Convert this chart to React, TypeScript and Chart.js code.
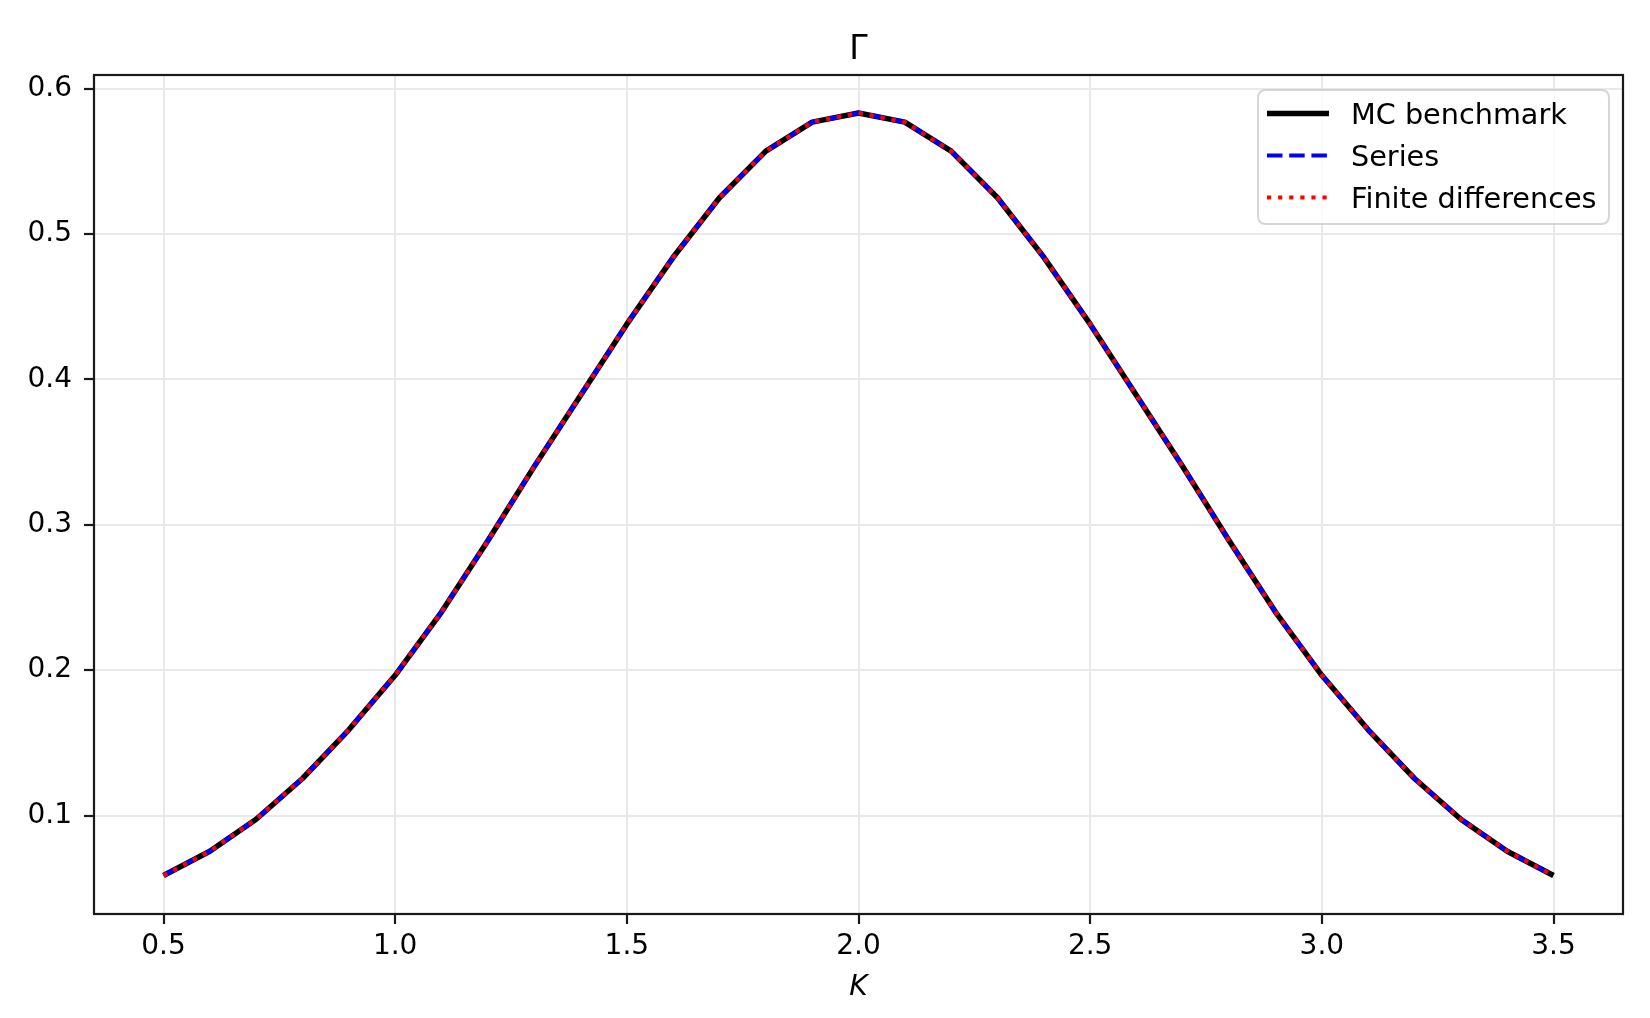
import React, { useEffect, useRef } from "react";
import { Chart, registerables } from "chart.js";

Chart.register(...registerables);

// ---- data ----
const kValues = [
  0.5, 0.6, 0.7, 0.8, 0.9, 1.0, 1.1, 1.2, 1.3, 1.4, 1.5, 1.6, 1.7, 1.8, 1.9, 2.0,
  2.1, 2.2, 2.3, 2.4, 2.5, 2.6, 2.7, 2.8, 2.9, 3.0, 3.1, 3.2, 3.3, 3.4, 3.5,
];
const mcBenchmark = [
  0.0588, 0.0755, 0.0975, 0.1255, 0.159, 0.1965, 0.24, 0.289, 0.34, 0.389, 0.438,
  0.484, 0.525, 0.557, 0.577, 0.5833, 0.577, 0.557, 0.525, 0.484, 0.438, 0.389,
  0.34, 0.289, 0.24, 0.1965, 0.159, 0.1255, 0.0975, 0.0755, 0.0588,
];
const seriesValues = [
  0.0588, 0.0755, 0.0975, 0.1255, 0.159, 0.1965, 0.24, 0.289, 0.34, 0.389, 0.438,
  0.484, 0.525, 0.557, 0.577, 0.5833, 0.577, 0.557, 0.525, 0.484, 0.438, 0.389,
  0.34, 0.289, 0.24, 0.1965, 0.159, 0.1255, 0.0975, 0.0755, 0.0588,
];
const finiteDiffValues = [
  0.0588, 0.0755, 0.0975, 0.1255, 0.159, 0.1965, 0.24, 0.289, 0.34, 0.389, 0.438,
  0.484, 0.525, 0.557, 0.577, 0.5833, 0.577, 0.557, 0.525, 0.484, 0.438, 0.389,
  0.34, 0.289, 0.24, 0.1965, 0.159, 0.1255, 0.0975, 0.0755, 0.0588,
];
const seriesLabels = ["MC benchmark", "Series", "Finite differences"];
const chartTitle = "Γ";
const xAxisLabel = "K";

const W = 1650;
const H = 1018;
const FONT = "'DejaVu Sans', 'Liberation Sans', sans-serif";

const legendStyles = [
  { color: "#000000", width: 5.5, dash: [] as number[], cap: "butt" as CanvasLineCap },
  { color: "#0000ff", width: 4.2, dash: [15.5, 6.7], cap: "butt" as CanvasLineCap },
  { color: "#ff0000", width: 4.2, dash: [4.2, 6.9], cap: "butt" as CanvasLineCap },
];

function roundRect(ctx: CanvasRenderingContext2D, x: number, y: number, w: number, h: number, r: number) {
  ctx.beginPath();
  ctx.moveTo(x + r, y);
  ctx.lineTo(x + w - r, y);
  ctx.quadraticCurveTo(x + w, y, x + w, y + r);
  ctx.lineTo(x + w, y + h - r);
  ctx.quadraticCurveTo(x + w, y + h, x + w - r, y + h);
  ctx.lineTo(x + r, y + h);
  ctx.quadraticCurveTo(x, y + h, x, y + h - r);
  ctx.lineTo(x, y + r);
  ctx.quadraticCurveTo(x, y, x + r, y);
  ctx.closePath();
}

const decorPlugin = {
  id: "decor",
  afterDatasetsDraw(chart: any) {
    const { ctx, chartArea } = chart;
    const { left, right, top, bottom } = chartArea;
    ctx.save();
    // spines
    ctx.strokeStyle = "#1a1a1a";
    ctx.lineWidth = 2.2;
    ctx.setLineDash([]);
    ctx.strokeRect(left, top, right - left, bottom - top);

    // title
    const cx = (left + right) / 2;
    ctx.fillStyle = "#000";
    ctx.textAlign = "center";
    ctx.textBaseline = "alphabetic";
    ctx.font = `33px ${FONT}`;
    ctx.fillText(chartTitle, cx, 58.5);

    // x label
    ctx.font = `italic 28px ${FONT}`;
    ctx.fillText(xAxisLabel, cx, 995);

    // legend
    const bx = 1258, by = 90, bw = 351, bh = 134;
    roundRect(ctx, bx, by, bw, bh, 8);
    ctx.fillStyle = "rgba(255,255,255,0.8)";
    ctx.fill();
    ctx.strokeStyle = "rgba(204,204,204,0.8)";
    ctx.lineWidth = 2;
    ctx.stroke();

    const baselines = [123.5, 165.5, 207.5];
    seriesLabels.forEach((lab, i) => {
      const st = legendStyles[i];
      const ly = baselines[i] - 10;
      ctx.beginPath();
      ctx.strokeStyle = st.color;
      ctx.lineWidth = st.width;
      ctx.lineCap = st.cap;
      ctx.setLineDash(st.dash);
      ctx.moveTo(1267, ly);
      ctx.lineTo(1329, ly);
      ctx.stroke();
      ctx.setLineDash([]);
      ctx.fillStyle = "#000";
      ctx.textAlign = "left";
      ctx.textBaseline = "alphabetic";
      ctx.font = `28.7px ${FONT}`;
      ctx.fillText(lab, 1351, baselines[i]);
    });
    ctx.restore();
  },
};

export default function App() {
  const canvasRef = useRef<HTMLCanvasElement | null>(null);

  useEffect(() => {
    document.body.style.margin = "0";
    document.body.style.background = "#ffffff";
    const canvas = canvasRef.current;
    if (!canvas) return;

    const toPoints = (ys: number[]) => kValues.map((x, i) => ({ x, y: ys[i] }));

    const chart = new Chart(canvas, {
      type: "line",
      data: {
        datasets: [
          {
            label: seriesLabels[0],
            data: toPoints(mcBenchmark),
            borderColor: legendStyles[0].color,
            borderWidth: legendStyles[0].width,
            borderCapStyle: "butt",
            borderJoinStyle: "round",
            pointRadius: 0,
            tension: 0,
            fill: false,
            order: 3,
          },
          {
            label: seriesLabels[1],
            data: toPoints(seriesValues),
            borderColor: legendStyles[1].color,
            borderWidth: legendStyles[1].width,
            borderDash: legendStyles[1].dash,
            borderCapStyle: "butt",
            borderJoinStyle: "round",
            pointRadius: 0,
            tension: 0,
            fill: false,
            order: 2,
          },
          {
            label: seriesLabels[2],
            data: toPoints(finiteDiffValues),
            borderColor: legendStyles[2].color,
            borderWidth: legendStyles[2].width,
            borderDash: legendStyles[2].dash,
            borderCapStyle: "butt",
            borderJoinStyle: "round",
            pointRadius: 0,
            tension: 0,
            fill: false,
            order: 1,
          },
        ],
      },
      options: {
        responsive: false,
        animation: false,
        events: [],
        layout: { padding: { left: 0, top: 75, right: 27, bottom: 0 } },
        plugins: {
          legend: { display: false },
          tooltip: { enabled: false },
          title: { display: false },
        },
        scales: {
          x: {
            type: "linear",
            min: 0.35,
            max: 3.65,
            afterFit: (scale: any) => {
              scale.height = 104;
            },
            ticks: {
              stepSize: 0.5,
              includeBounds: false,
              autoSkip: false,
              maxRotation: 0,
              padding: 6,
              color: "#000",
              font: { family: FONT, size: 28 },
              callback: (v: any) => Number(v).toFixed(1),
            },
            grid: {
              color: "#e9e9e9",
              lineWidth: 2,
              drawTicks: true,
              tickLength: 10,
              tickColor: "#1a1a1a",
              tickWidth: 2.2,
            },
            border: { display: false },
          },
          y: {
            type: "linear",
            min: 0.0323,
            max: 0.6094,
            afterFit: (scale: any) => {
              scale.width = 94;
            },
            ticks: {
              stepSize: 0.1,
              includeBounds: false,
              autoSkip: false,
              padding: 12,
              color: "#000",
              font: { family: FONT, size: 28 },
              callback: (v: any) => Number(v).toFixed(1),
            },
            grid: {
              color: "#e9e9e9",
              lineWidth: 2,
              drawTicks: true,
              tickLength: 10,
              tickColor: "#1a1a1a",
              tickWidth: 2.2,
            },
            border: { display: false },
          },
        },
      },
      plugins: [decorPlugin],
    } as any);

    return () => {
      chart.destroy();
    };
  }, []);

  return (
    <div
      style={{
        position: "absolute",
        left: 0,
        top: 0,
        width: W,
        height: H,
        background: "#ffffff",
        overflow: "hidden",
      }}
    >
      <canvas ref={canvasRef} width={W} height={H} style={{ width: W, height: H, display: "block" }} />
    </div>
  );
}
